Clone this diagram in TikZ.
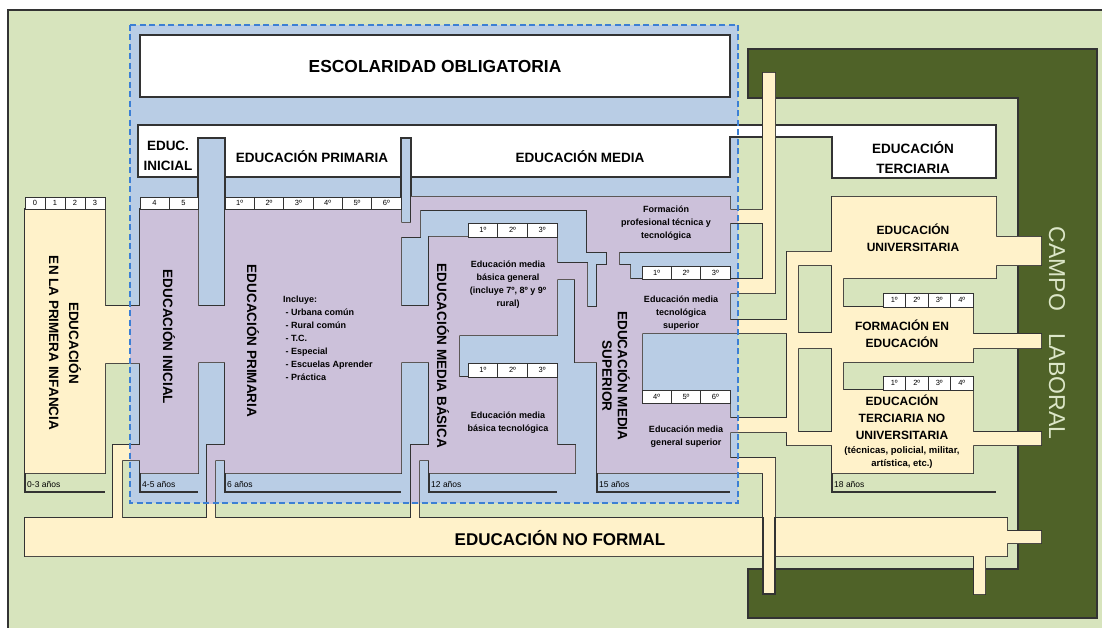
\documentclass[tikz,border=0pt]{standalone}
\usepackage{fontspec}
\setmainfont{Liberation Sans}
\definecolor{bggreen}{HTML}{D7E4BD}
\definecolor{wallblue}{HTML}{B9CDE5}
\definecolor{flowpurple}{HTML}{CCC1DA}
\definecolor{flowyellow}{HTML}{FFF2CA}
\definecolor{darkgreen}{HTML}{4F6228}
\definecolor{linecol}{HTML}{333333}
\definecolor{dashblue}{HTML}{3C7FD4}
\definecolor{campotext}{HTML}{DCE6C8}
\newcommand\myflows{
(25,209) rectangle (105,473)
(105,306) rectangle (140,363)
(140,209) rectangle (198,473)
(198,306) rectangle (225,362)
(225,209) rectangle (401,473)
(113,445) rectangle (140,460)
(113,445) rectangle (122,518)
(207,445) rectangle (225,460)
(207,445) rectangle (215,518)
(411,197) rectangle (730,210)
(411,210) rectangle (420,237)
(401,223) rectangle (420,237)
(401,306) rectangle (429,362)
(429,237) rectangle (459,473)
(429,237) rectangle (557,335)
(557,263) rectangle (587,279)
(575,263) rectangle (587,362)
(587,307) rectangle (597,362)
(429,377) rectangle (557,445)
(429,445) rectangle (575,473)
(411,445) rectangle (429,460)
(411,445) rectangle (419,518)
(587,210) rectangle (730,252)
(607,252) rectangle (619,265)
(597,265) rectangle (630,279)
(597,279) rectangle (730,333)
(597,333) rectangle (642,473)
(642,403) rectangle (730,473)
(730,210) rectangle (763,223)
(763,73) rectangle (775,293)
(730,279) rectangle (763,293)
(730,320) rectangle (787,333)
(787,252) rectangle (798,445)
(730,418) rectangle (787,432)
(787,432) rectangle (832,445)
(730,458) rectangle (775,473)
(763,458) rectangle (775,518)
(832,197) rectangle (996,278)
(996,237) rectangle (1041,265)
(787,252) rectangle (832,265)
(832,278) rectangle (843,307)
(832,307) rectangle (973,362)
(973,334) rectangle (1041,348)
(798,333) rectangle (832,348)
(832,362) rectangle (843,390)
(832,390) rectangle (973,473)
(973,432) rectangle (1041,445)
(25,518) rectangle (1007,556)
(1007,531) rectangle (1041,543)
(974,556) rectangle (985,594)
}
\newcommand\cellrow[6]{%
  \foreach \lbl [count=\i from 0] in {#6} {\node[cellbox, minimum width=#4, minimum height=#5, name=#1\i] at ({#2+#4*\i+#4/2},#3) {\lbl};}}
\tikzset{
  outl/.style={draw=linecol, line width=1.2pt},
  cellbox/.style={draw=linecol, line width=0.9pt, fill=white, inner sep=0pt, font=\fontsize{7.5}{8}\selectfont},
  hdrtxt/.style={align=center, inner sep=0pt, font=\fontsize{13.5}{20}\selectfont\bfseries},
  verttxt/.style={align=center, inner sep=0pt, rotate=-90, font=\fontsize{13.5}{20}\selectfont\bfseries},
  smalltxt/.style={align=center, inner sep=0pt, font=\fontsize{9}{13}\selectfont\bfseries},
  midtxt/.style={align=center, inner sep=0pt, font=\fontsize{12}{17}\selectfont\bfseries},
  agetxt/.style={anchor=west, inner sep=0pt, font=\fontsize{8.5}{10}\selectfont}
}
\begin{document}
\begin{tikzpicture}[x=1pt,y=-1pt,line join=miter]
\useasboundingbox (0,0) rectangle (1102,628);
\fill[white] (0,0) rectangle (1102,628);
\fill[bggreen] (8,10) rectangle (1102,628);
\draw[linecol, line width=1.4pt] (8,628) -- (8,10) -- (1102,10);
\fill[wallblue] (130,25) rectangle (738,503);
% campo laboral
\draw[outl, fill=darkgreen] (748,49) -- (1097,49) -- (1097,618) -- (748,618) -- (748,569) -- (1018,569) -- (1018,98) -- (748,98) -- cycle;
% white boxes
\draw[outl, fill=white] (140,35) rectangle (730,97);
\draw[outl, fill=white] (138,125) -- (996,125) -- (996,178) -- (832,178) -- (832,137) -- (730,137) -- (730,177) -- (138,177) -- cycle;
% walls cutting the headers
\draw[outl, fill=wallblue] (198,138) rectangle (225,306);
\draw[outl, fill=wallblue] (401,138) rectangle (411,223);
% flows
\draw[linecol, line width=2.4pt] \myflows;
\fill[flowyellow] \myflows;
\begin{scope}
\clip (130,25) rectangle (738,503);
\fill[flowpurple] \myflows;
\end{scope}
\fill[flowyellow] (763,517) rectangle (775,594);
\draw[outl] (763,517) -- (763,594) -- (775,594) -- (775,517);
% cells
\cellrow{pi}{25}{203}{20}{12}{0,1,2,3}
\cellrow{ini}{140}{203}{29}{12}{4,5}
\cellrow{pri}{225}{203}{29.33}{12}{1º,2º,3º,4º,5º,6º}
\cellrow{mbg}{468}{230}{29.67}{14}{1º,2º,3º}
\cellrow{mbt}{468}{370}{29.67}{14}{1º,2º,3º}
\cellrow{fpt}{642}{272.5}{29.33}{13}{1º,2º,3º}
\cellrow{msu}{642}{396.5}{29.33}{13}{4º,5º,6º}
\cellrow{fed}{883}{300}{22.5}{14}{1º,2º,3º,4º}
\cellrow{tnu}{883}{383}{22.5}{14}{1º,2º,3º,4º}
% age brackets
\draw[outl] (25,473) -- (25,492) -- (105,492);
\draw[outl] (140,473) -- (140,492) -- (198,492);
\draw[outl] (225,473) -- (225,492) -- (401,492);
\draw[outl] (429,473) -- (429,492) -- (557,492);
\draw[outl] (597,473) -- (597,492) -- (730,492);
\draw[outl] (832,473) -- (832,492) -- (996,492);
\node[agetxt] (a0) at (27,484) {0-3 años};
\node[agetxt] (a1) at (142,484) {4-5 años};
\node[agetxt] (a2) at (227,484) {6 años};
\node[agetxt] (a3) at (431,484) {12 años};
\node[agetxt] (a4) at (599,484) {15 años};
\node[agetxt] (a5) at (834,484) {18 años};
% titles
\node[hdrtxt, font=\fontsize{17.4}{20}\selectfont\bfseries] (escol) at (435,67) {ESCOLARIDAD OBLIGATORIA};
\node[hdrtxt] (hini) at (168,156) {EDUC.\\INICIAL};
\node[hdrtxt] (hpri) at (312,157) {EDUCACIÓN PRIMARIA};
\node[hdrtxt] (hmed) at (580,157) {EDUCACIÓN MEDIA};
\node[hdrtxt] (hter) at (913,158) {EDUCACIÓN\\TERCIARIA};
\node[verttxt] (vpi) at (65,343) {EDUCACIÓN\\EN LA PRIMERA INFANCIA};
\node[verttxt] (vini) at (169,337) {EDUCACIÓN INICIAL};
\node[verttxt] (vpri) at (253,341) {EDUCACIÓN PRIMARIA};
\node[verttxt] (vmb) at (443,356) {EDUCACIÓN MEDIA BÁSICA};
\node[verttxt, font=\fontsize{13.5}{15.5}\selectfont\bfseries] (vms) at (616,376) {EDUCACIÓN MEDIA\\SUPERIOR};
\node[smalltxt, align=left, anchor=north west] (incl) at (283,296) {Incluye:\\ \ - Urbana común\\ \ - Rural común\\ \ - T.C.\\ \ - Especial\\ \ - Escuelas Aprender\\ \ - Práctica};
\node[smalltxt] (tmbg) at (508,285) {Educación media\\básica general\\(incluye 7º, 8º y 9º\\rural)};
\node[smalltxt] (tmbt) at (508,423) {Educación media\\básica tecnológica};
\node[smalltxt] (tfpt) at (666,223) {Formación\\profesional técnica y\\tecnológica};
\node[smalltxt] (ttsu) at (681,313) {Educación media\\tecnológica\\superior};
\node[smalltxt] (tgsu) at (686,437) {Educación media\\general superior};
\node[midtxt] (tuni) at (913,238) {EDUCACIÓN\\UNIVERSITARIA};
\node[midtxt] (tfed) at (902,334) {FORMACIÓN EN\\EDUCACIÓN};
\node[midtxt] (ttnu) at (902,417) {EDUCACIÓN\\TERCIARIA NO\\UNIVERSITARIA};
\node[smalltxt, font=\fontsize{9.5}{13}\selectfont\bfseries] (ttnu2) at (902,457) {(técnicas, policial, militar,\\artística, etc.)};
\node[hdrtxt, font=\fontsize{17}{20}\selectfont\bfseries] (nofo) at (560,538) {EDUCACIÓN NO FORMAL};
\node[verttxt, text=campotext, font=\fontsize{23}{26}\selectfont] (campo) at (1057,333) {CAMPO\hspace{22pt}LABORAL};
% compulsory schooling frame
\draw[dashblue, line width=1.3pt, dash pattern=on 6pt off 3.5pt] (130,25) rectangle (738,503);
\end{tikzpicture}
\end{document}
